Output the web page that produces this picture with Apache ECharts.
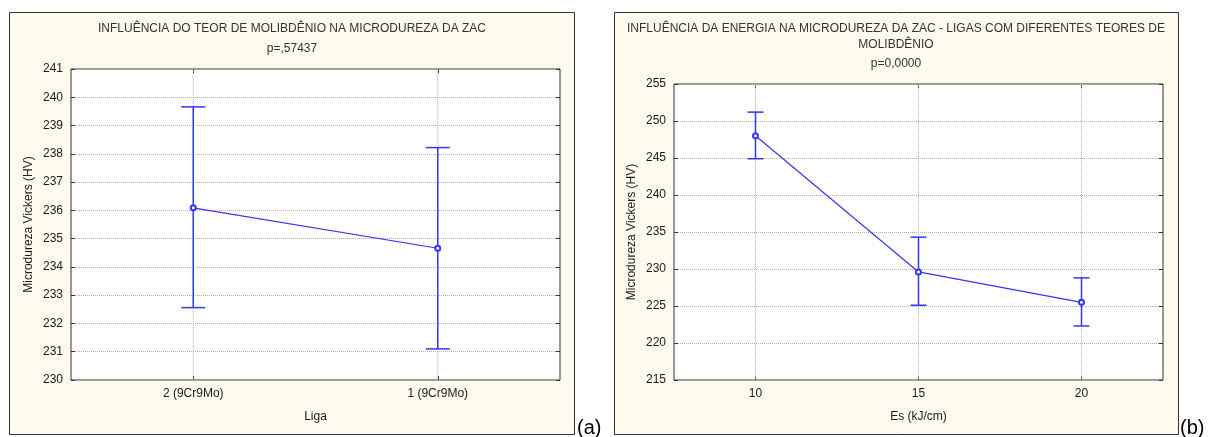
<!DOCTYPE html>
<html>
<head>
<meta charset="utf-8">
<script src="https://cdn.jsdelivr.net/npm/echarts@6/dist/echarts.min.js"></script>
<style>html,body{margin:0;padding:0;background:#fff;}#c{width:1208px;height:437px;}</style>
</head>
<body>
<div id="c"></div>
<script>
// Panel (a)
var ligaCats = ['2 (9Cr9Mo)', '1 (9Cr9Mo)'];
var ligaMean = [236.09, 234.66];
var ligaUpper = [239.66, 238.22];
var ligaLower = [232.56, 231.10];
var ligaTicks = {min: 230, max: 241, interval: 1};
// Panel (b)
var energyCats = ['10', '15', '20'];
var energyMean = [248.0, 229.6, 225.5];
var energyUpper = [251.2, 234.3, 228.8];
var energyLower = [244.9, 225.1, 222.3];
var energyTicks = {min: 215, max: 255, interval: 5};

var FONT = 'Liberation Sans, Arial, sans-serif';
var TXT = '#1a1a1a';
var BLUE = '#3535f5';

function errData(cats, lo, hi) {
  return cats.map(function (c, i) { return [i, lo[i], hi[i]]; });
}
function makeErr(capHalf) {
  return function (params, api) {
    var x = api.value(0);
    var pLo = api.coord([x, api.value(1)]);
    var pHi = api.coord([x, api.value(2)]);
    var st = {stroke: BLUE, lineWidth: 1.5};
    return {type: 'group', children: [
      {type: 'line', shape: {x1: pLo[0], y1: pLo[1], x2: pHi[0], y2: pHi[1]}, style: st},
      {type: 'line', shape: {x1: pHi[0] - capHalf, y1: pHi[1], x2: pHi[0] + capHalf, y2: pHi[1]}, style: st},
      {type: 'line', shape: {x1: pLo[0] - capHalf, y1: pLo[1], x2: pLo[0] + capHalf, y2: pLo[1]}, style: st}
    ]};
  };
}
function vGrid(params, api) {
  var x = api.value(0);
  var p = api.coord([x, api.value(1)]);
  var cs = params.coordSys;
  return {type: 'line', shape: {x1: p[0], y1: cs.y, x2: p[0], y2: cs.y + cs.height},
    style: {stroke: '#b0b0b0', lineWidth: 1, lineDash: [1, 1]}};
}

function xAxes(gi, cats, name) {
  return [
    {gridIndex: gi, type: 'category', data: cats, boundaryGap: true, position: 'bottom',
     name: name, nameLocation: 'middle', nameGap: 31,
     nameTextStyle: {fontFamily: FONT, fontSize: 12, color: TXT},
     axisLine: {show: false},
     axisTick: {show: true, inside: true, alignWithLabel: true, length: 4, lineStyle: {color: '#333'}},
     axisLabel: {margin: 8, fontFamily: FONT, fontSize: 12, color: TXT},
     splitLine: {show: false}},
    {gridIndex: gi, type: 'category', data: cats, boundaryGap: true, position: 'top',
     axisLine: {show: false},
     axisTick: {show: true, inside: true, alignWithLabel: true, length: 4, lineStyle: {color: '#333'}},
     axisLabel: {show: false}, splitLine: {show: false}}
  ];
}
function yAxes(gi, t, name) {
  return [
    {gridIndex: gi, type: 'value', min: t.min, max: t.max, interval: t.interval, position: 'left',
     name: name, nameLocation: 'middle', nameGap: 36,
     nameTextStyle: {fontFamily: FONT, fontSize: 12, color: TXT},
     axisLine: {show: false},
     axisTick: {show: true, inside: true, length: 4, lineStyle: {color: '#333'}},
     axisLabel: {margin: 8, fontFamily: FONT, fontSize: 12, color: TXT},
     splitLine: {show: true, lineStyle: {color: '#b0b0b0', type: [1, 1], width: 1}}},
    {gridIndex: gi, type: 'value', min: t.min, max: t.max, interval: t.interval, position: 'right',
     axisLine: {show: false},
     axisTick: {show: true, inside: true, length: 4, lineStyle: {color: '#333'}},
     axisLabel: {show: false}, splitLine: {show: false}}
  ];
}

var chart = echarts.init(document.getElementById('c'), null, {renderer: 'canvas'});
chart.setOption({
  animation: false,
  backgroundColor: '#ffffff',
  grid: [
    {left: 71, top: 69, width: 489, height: 311, show: true, backgroundColor: '#ffffff', borderColor: '#333', borderWidth: 1},
    {left: 674, top: 84, width: 489, height: 296, show: true, backgroundColor: '#ffffff', borderColor: '#333', borderWidth: 1}
  ],
  xAxis: xAxes(0, ligaCats, 'Liga').concat(xAxes(1, energyCats, 'Es (kJ/cm)')),
  yAxis: yAxes(0, ligaTicks, 'Microdureza Vickers (HV)').concat(yAxes(1, energyTicks, 'Microdureza Vickers (HV)')),
  graphic: [
    {type: 'rect', z: -10, shape: {x: 9.5, y: 12.5, width: 565, height: 422}, style: {fill: '#fff9ee', stroke: '#333', lineWidth: 1}},
    {type: 'rect', z: -10, shape: {x: 614.5, y: 12.5, width: 564, height: 422}, style: {fill: '#fff9ee', stroke: '#333', lineWidth: 1}},
    {type: 'text', x: 292, y: 29, style: {text: 'INFLUÊNCIA DO TEOR DE MOLIBDÊNIO NA MICRODUREZA DA ZAC', textAlign: 'center', textVerticalAlign: 'middle', font: '12px ' + FONT, fill: '#333'}},
    {type: 'text', x: 292, y: 49, style: {text: 'p=,57437', textAlign: 'center', textVerticalAlign: 'middle', font: '12px ' + FONT, fill: '#333'}},
    {type: 'text', x: 896, y: 29, style: {text: 'INFLUÊNCIA DA ENERGIA NA MICRODUREZA DA ZAC - LIGAS COM DIFERENTES TEORES DE', textAlign: 'center', textVerticalAlign: 'middle', font: '12px ' + FONT, fill: '#333'}},
    {type: 'text', x: 896, y: 45, style: {text: 'MOLIBDÊNIO', textAlign: 'center', textVerticalAlign: 'middle', font: '12px ' + FONT, fill: '#333'}},
    {type: 'text', x: 896, y: 64, style: {text: 'p=0,0000', textAlign: 'center', textVerticalAlign: 'middle', font: '12px ' + FONT, fill: '#333'}},
    {type: 'text', x: 577, y: 428, style: {text: '(a)', textAlign: 'left', textVerticalAlign: 'middle', font: '20px ' + FONT, fill: '#000'}},
    {type: 'text', x: 1180, y: 428, style: {text: '(b)', textAlign: 'left', textVerticalAlign: 'middle', font: '20px ' + FONT, fill: '#000'}}
  ],
  series: [
    {type: 'custom', xAxisIndex: 0, yAxisIndex: 0, z: 1, silent: true, renderItem: vGrid, data: errData(ligaCats, ligaLower, ligaUpper)},
    {type: 'custom', xAxisIndex: 0, yAxisIndex: 0, z: 3, silent: true, renderItem: makeErr(12), data: errData(ligaCats, ligaLower, ligaUpper)},
    {type: 'line', xAxisIndex: 0, yAxisIndex: 0, z: 4, data: ligaMean, symbol: 'emptyCircle', symbolSize: 5,
     lineStyle: {color: BLUE, width: 1.2}, itemStyle: {color: BLUE, borderWidth: 1.2}},
    {type: 'custom', xAxisIndex: 2, yAxisIndex: 2, z: 1, silent: true, renderItem: vGrid, data: errData(energyCats, energyLower, energyUpper)},
    {type: 'custom', xAxisIndex: 2, yAxisIndex: 2, z: 3, silent: true, renderItem: makeErr(8), data: errData(energyCats, energyLower, energyUpper)},
    {type: 'line', xAxisIndex: 2, yAxisIndex: 2, z: 4, data: energyMean, symbol: 'emptyCircle', symbolSize: 5,
     lineStyle: {color: BLUE, width: 1.2}, itemStyle: {color: BLUE, borderWidth: 1.2}}
  ]
});
</script>
</body>
</html>
